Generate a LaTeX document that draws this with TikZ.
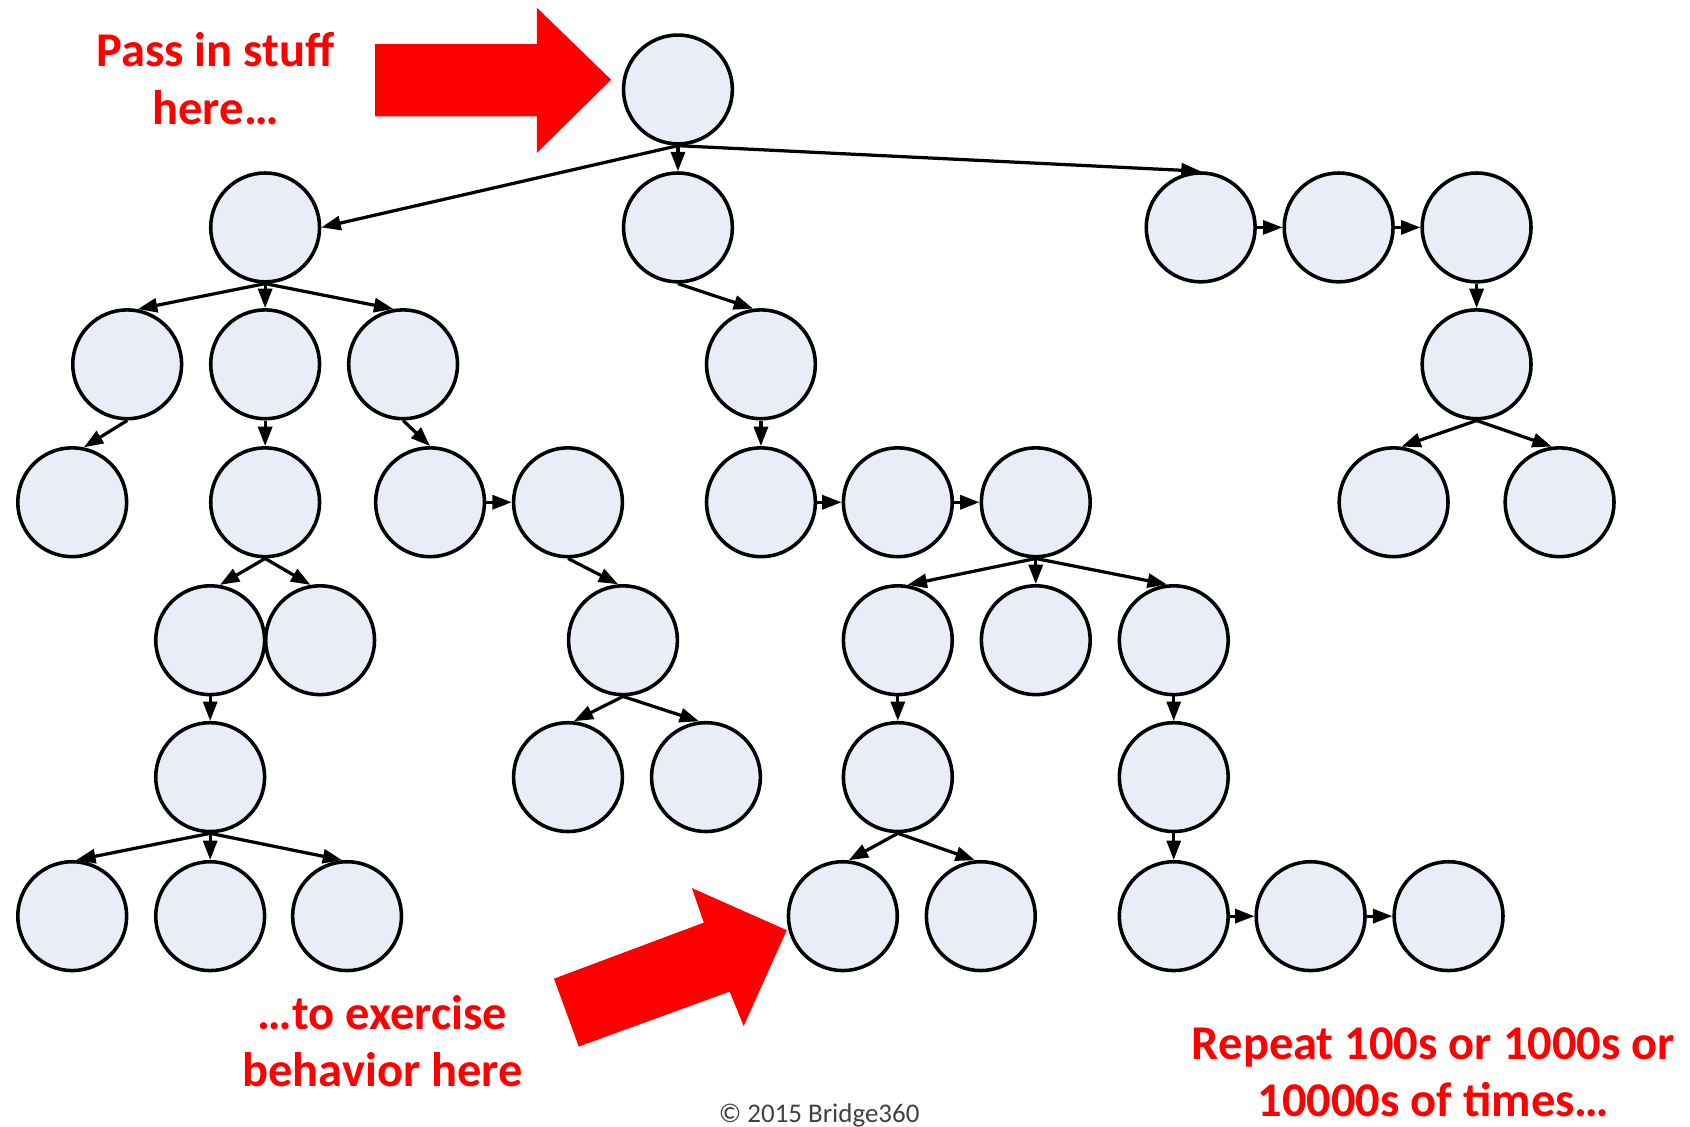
\documentclass[tikz,border=0pt]{standalone}
\usepackage{fontspec}
\setmainfont{Carlito}
\usetikzlibrary{arrows.meta}
\definecolor{nodefill}{RGB}{232,237,247}
\definecolor{notegray}{RGB}{64,64,64}
\begin{document}
\begin{tikzpicture}[x=1pt,y=-1pt,
  vtx/.style={circle, draw=black, line width=3.3pt, fill=nodefill,
              minimum size=101pt, inner sep=0pt},
  link/.style={line width=3pt, -{Triangle[length=18pt,width=13pt]}},
  note/.style={text=red, font=\bfseries\fontsize{45}{53}\selectfont, align=center},
  bigarrow/.style={fill=red, draw=none},
]
\useasboundingbox (0,0) rectangle (1568,1045);

% ---- tree nodes ----
\node[vtx] (root) at (629,83) {};

\node[vtx] (A)  at (246,211) {};
\node[vtx] (B)  at (629,211) {};
\node[vtx] (C1) at (1114,211) {};
\node[vtx] (C2) at (1242,211) {};
\node[vtx] (C3) at (1370,211) {};

\node[vtx] (A1) at (118,338) {};
\node[vtx] (A2) at (246,338) {};
\node[vtx] (A3) at (374,338) {};
\node[vtx] (B1) at (706,338) {};
\node[vtx] (C4) at (1370,338) {};

\node[vtx] (A1a) at (67,466) {};
\node[vtx] (A2a) at (246,466) {};
\node[vtx] (A3a) at (399,466) {};
\node[vtx] (A3b) at (527,466) {};
\node[vtx] (B1a) at (706,466) {};
\node[vtx] (B1b) at (833,466) {};
\node[vtx] (B1c) at (961,466) {};
\node[vtx] (C4a) at (1293,466) {};
\node[vtx] (C4b) at (1447,466) {};

\node[vtx] (A2a1) at (195,594) {};
\node[vtx] (A2a2) at (297,594) {};
\node[vtx] (A3b1) at (578,594) {};
\node[vtx] (B1c1) at (833,594) {};
\node[vtx] (B1c2) at (961,594) {};
\node[vtx] (B1c3) at (1089,594) {};

\node[vtx] (A2a1a) at (195,721) {};
\node[vtx] (A3b1a) at (527,721) {};
\node[vtx] (A3b1b) at (655,721) {};
\node[vtx] (B1c1a) at (833,721) {};
\node[vtx] (B1c3a) at (1089,721) {};

\node[vtx] (L1) at (67,850) {};
\node[vtx] (L2) at (195,850) {};
\node[vtx] (L3) at (322,850) {};
\node[vtx] (D1) at (782,850) {};
\node[vtx] (D2) at (910,850) {};
\node[vtx] (E1) at (1089,850) {};
\node[vtx] (E2) at (1216,850) {};
\node[vtx] (E3) at (1344,850) {};

% ---- edges ----
\draw[link] (root.south) -- (A.east);
\draw[link] (root.south) -- (B.north);
\draw[link] (root.south) -- (C1.north);
\draw[link] (C1.east) -- (C2.west);
\draw[link] (C2.east) -- (C3.west);
\draw[link] (C3.south) -- (C4.north);
\draw[link] (C4.south) -- (C4a.82);
\draw[link] (C4.south) -- (C4b.98);

\draw[link] (A.south) -- (A1.79);
\draw[link] (A.south) -- (A2.north);
\draw[link] (A.south) -- (A3.100);
\draw[link] (A1.south) -- (A1a.78);
\draw[link] (A2.south) -- (A2a.north);
\draw[link] (A3.south) -- (A3a.north);
\draw[link] (A3a.east) -- (A3b.west);
\draw[link] (A2a.south) -- (A2a1.80);
\draw[link] (A2a.south) -- (A2a2.100);
\draw[link] (A3b.south) -- (A3b1.95);
\draw[link] (A2a1.south) -- (A2a1a.north);
\draw[link] (A2a1a.south) -- (L1.86);
\draw[link] (A2a1a.south) -- (L2.north);
\draw[link] (A2a1a.south) -- (L3.95);
\draw[link] (A3b1.south) -- (A3b1a.84);
\draw[link] (A3b1.south) -- (A3b1b.97);

\draw[link] (B.south) -- (B1.98);
\draw[link] (B1.south) -- (B1a.north);
\draw[link] (B1a.east) -- (B1b.west);
\draw[link] (B1b.east) -- (B1c.west);
\draw[link] (B1c.south) -- (B1c1.80);
\draw[link] (B1c.south) -- (B1c2.north);
\draw[link] (B1c.south) -- (B1c3.97);
\draw[link] (B1c1.south) -- (B1c1a.north);
\draw[link] (B1c3.south) -- (B1c3a.north);
\draw[link] (B1c1a.south) -- (D1.84);
\draw[link] (B1c1a.south) -- (D2.96);
\draw[link] (B1c3a.south) -- (E1.north);
\draw[link] (E1.east) -- (E2.west);
\draw[link] (E2.east) -- (E3.west);

% ---- block arrows ----
\fill[bigarrow] (348,41) -- (498,41) -- (498,7) -- (567,74) -- (498,142)
  -- (498,108) -- (348,108) -- cycle;
\fill[bigarrow] (514,908) -- (653,856) -- (642,824) -- (730,863) -- (690,952)
  -- (677,920) -- (537,971) -- cycle;

% ---- captions ----
\node[note] (tin) at (200,73) {Pass in stuff\\here…};
\node[note] (tout) at (355,966) {…to exercise\\behavior here};
\node[note] (trep) at (1330,995) {Repeat 100s or 1000s or\\10000s of times…};
\node[text=notegray, font=\fontsize{25}{29}\selectfont, anchor=base] (copy)
  at (760,1041) {© 2015 Bridge360};
\end{tikzpicture}
\end{document}
